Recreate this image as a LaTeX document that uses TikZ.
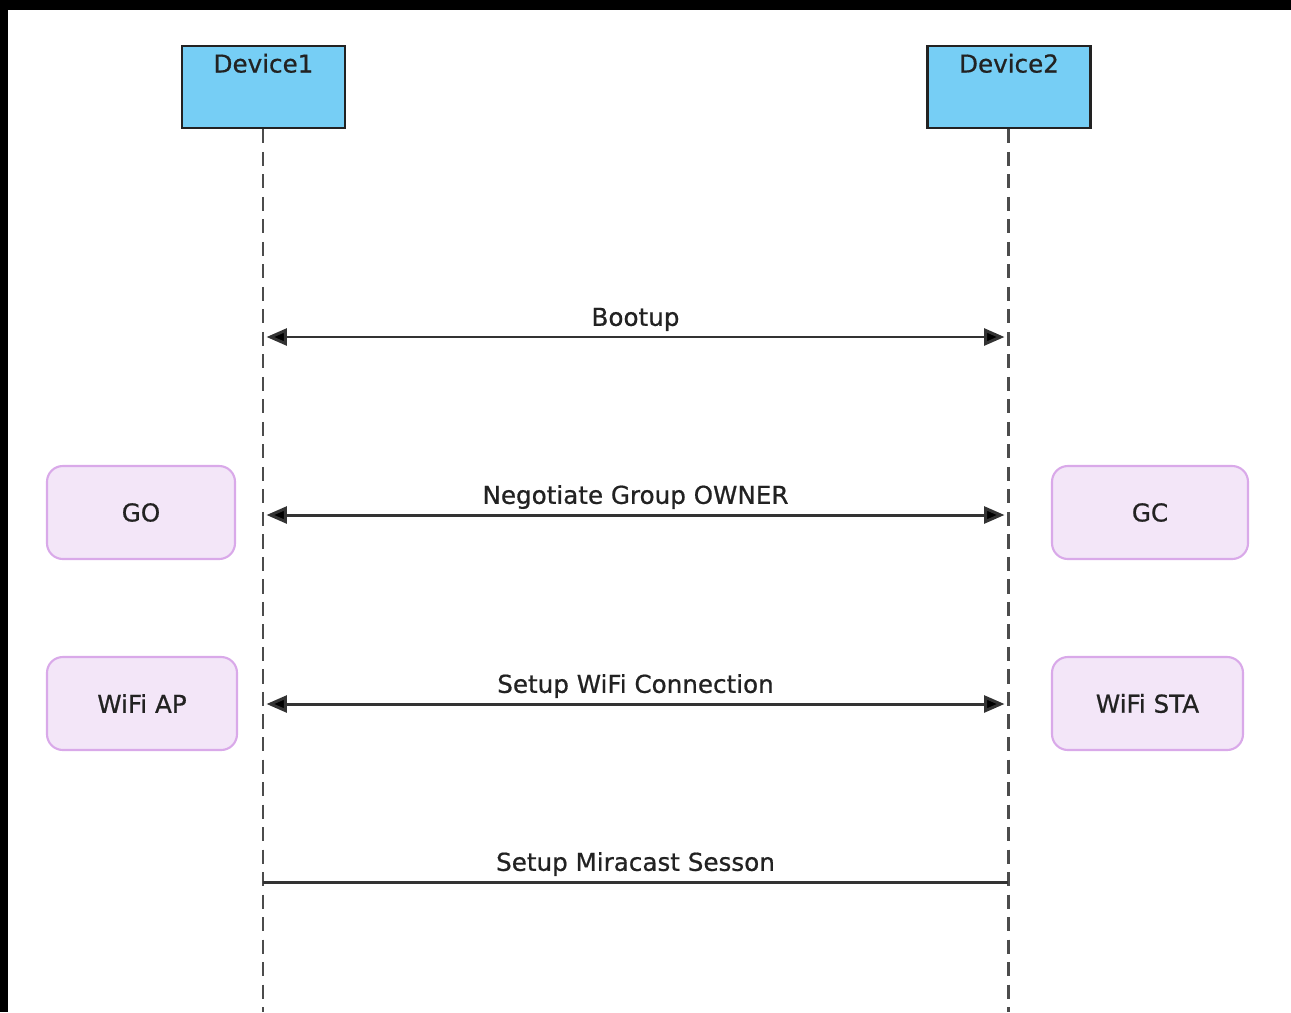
\documentclass[tikz,border=0pt]{standalone}
\usepackage{fontspec}
\setmainfont{DejaVu Sans}[RawFeature={embolden=0.7}]
\usetikzlibrary{arrows.meta}

\definecolor{devblue}{HTML}{76CEF5}
\definecolor{rolefill}{HTML}{F3E6F8}
\definecolor{roleline}{HTML}{D9A9E9}
\definecolor{ink}{HTML}{222222}

\begin{document}
\begin{tikzpicture}[x=0.01cm, y=-0.01cm,
  every node/.style={font=\fontsize{7}{8}\selectfont, text=ink},
  device/.style={draw=ink, fill=devblue, line width=0.75pt, minimum width=163*0.01cm, minimum height=82*0.01cm, inner sep=0pt},
  role/.style={draw=roleline, fill=rolefill, line width=0.6pt, rounded corners=4.5pt, minimum height=93*0.01cm, inner sep=0pt},
  lifeline/.style={draw=black!70, line width=0.85pt, dash pattern=on 4pt off 2.4pt},
  msg/.style={draw=black!80, line width=0.85pt},
  both/.style={msg, {Triangle[length=5.8pt,width=4.8pt,fill=black]}-{Triangle[length=5.8pt,width=4.8pt,fill=black]}, shorten <=1pt, shorten >=1pt}]
  \useasboundingbox (0,0) rectangle (1291,1012);
  \fill[black] (0,0) rectangle (1291,10);
  \fill[black] (0,0) rectangle (8,1012);

  \node[device, label={[anchor=north, inner sep=0pt, yshift=-2.4pt]north:Device1}] (dev1) at (263.5,87) {};
  \node[device, label={[anchor=north, inner sep=0pt, yshift=-2.4pt]north:Device2}] (dev2) at (1009,87) {};

  \coordinate (end1) at (263,1012);
  \coordinate (end2) at (1008,1012);
  \draw[lifeline] (dev1.south -| end1) -- (end1);
  \draw[lifeline] (dev2.south -| end2) -- (end2);

  \node[role, minimum width=188*0.01cm] (go) at (141,512.5) {GO};
  \node[role, minimum width=190*0.01cm] (ap) at (142,703.5) {WiFi AP};
  \node[role, minimum width=196*0.01cm] (gc) at (1150,512.5) {GC};
  \node[role, minimum width=191*0.01cm] (sta) at (1147.5,703.5) {WiFi STA};

  \coordinate (boot1) at (263,337);
  \coordinate (boot2) at (1008,337);
  \coordinate (nego1) at (263,515);
  \coordinate (nego2) at (1008,515);
  \coordinate (wifi1) at (263,704);
  \coordinate (wifi2) at (1008,704);
  \coordinate (mira1) at (263,882);
  \coordinate (mira2) at (1008,882);

  \draw[both] (boot1) -- node[above, inner sep=1.3pt]{Bootup} (boot2);
  \draw[both] (nego1) -- node[above, inner sep=1.3pt]{Negotiate Group OWNER} (nego2);
  \draw[both] (wifi1) -- node[above, inner sep=1.3pt]{Setup WiFi Connection} (wifi2);
  \draw[msg] (mira1) -- node[above, inner sep=1.3pt]{Setup Miracast Sesson} (mira2);
\end{tikzpicture}
\end{document}
